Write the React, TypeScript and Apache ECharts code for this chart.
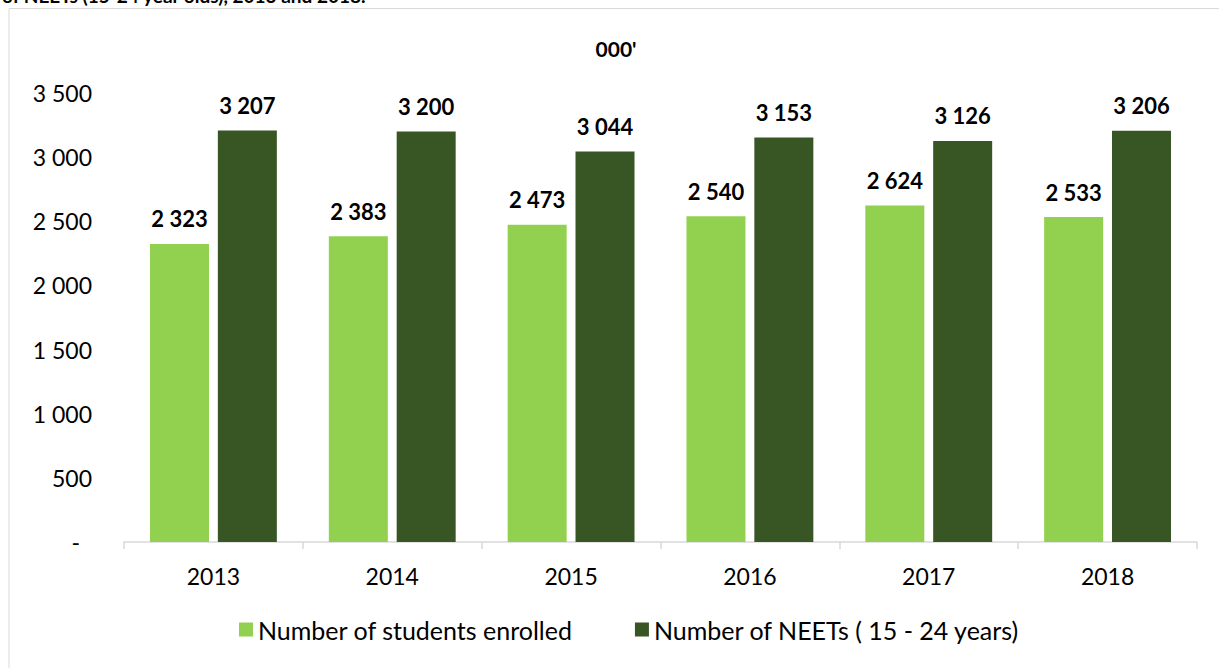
import React, { useEffect, useRef } from "react";
import * as echarts from "echarts";

const categories = ["2013", "2014", "2015", "2016", "2017", "2018"];
const studentsEnrolled = [2323, 2383, 2473, 2540, 2624, 2533];
const neets = [3207, 3200, 3044, 3153, 3126, 3206];
const seriesNames = ["Number of students enrolled", "Number of NEETs ( 15 - 24 years)"];
const unitLabel = "000'";
const cutTitle = "of NEETs (15-24 year olds), 2013 and 2018.";

const FONT = "Lato, 'Open Sans', sans-serif";

const fmt = (v: number) => String(v).replace(/\B(?=(\d{3})+(?!\d))/g, " ");

export default function App() {
  const ref = useRef<HTMLDivElement>(null);
  useEffect(() => {
    if (!ref.current) return;
    const chart = echarts.init(ref.current, undefined, { renderer: "svg" });
    const label = {
      show: true,
      position: "top" as const,
      distance: 14,
      fontSize: 22,
      fontWeight: "bold" as const,
      color: "#000",
      fontFamily: FONT,
      formatter: (p: any) => fmt(p.value),
    };
    chart.setOption({
      animation: false,
      backgroundColor: "#fff",
      textStyle: { fontFamily: FONT },
      graphic: [
        {
          type: "rect",
          shape: { x: 9, y: 8.5, width: 1230, height: 680 },
          style: { fill: "none", stroke: "#d9d9d9", lineWidth: 1 },
          silent: true,
        },
        {
          type: "text",
          x: 2,
          y: 5,
          style: {
            text: cutTitle,
            fontSize: 19,
            fontWeight: "bold",
            fontFamily: FONT,
            fill: "#000",
            verticalAlign: "bottom",
          },
        },
        {
          type: "text",
          x: 616,
          y: 48,
          style: {
            text: unitLabel,
            fontSize: 21,
            fontWeight: "bold",
            fontFamily: FONT,
            fill: "#000",
            align: "center",
            verticalAlign: "middle",
          },
        },
      ],
      legend: {
        bottom: 21,
        left: 234,
        itemWidth: 14,
        itemHeight: 14,
        itemGap: 62,
        icon: "rect",
        textStyle: { fontSize: 25, color: "#000", fontFamily: FONT },
        data: seriesNames,
      },
      grid: { left: 124, right: 22, top: 93, bottom: 126 },
      xAxis: {
        type: "category",
        data: categories,
        axisLine: { lineStyle: { color: "#d9d9d9", width: 1.5 } },
        axisTick: { show: true, length: 7, lineStyle: { color: "#d9d9d9", width: 1.5 } },
        axisLabel: { fontSize: 23, color: "#000", margin: 22, fontFamily: FONT },
      },
      yAxis: {
        type: "value",
        min: 0,
        max: 3500,
        interval: 500,
        axisLine: { show: false },
        axisTick: { show: false },
        splitLine: { show: false },
        axisLabel: {
          fontSize: 23,
          color: "#000",
          margin: 32,
          fontFamily: FONT,
          formatter: (v: number) => (v === 0 ? "{d|-}" : fmt(v)),
          rich: { d: { fontSize: 23, color: "#000", fontFamily: FONT, padding: [0, 12, 0, 0] } },
        },
      },
      series: [
        {
          name: seriesNames[0],
          type: "bar",
          data: studentsEnrolled,
          itemStyle: { color: "#92d050" },
          barWidth: 59,
          barGap: "15%",
          label,
        },
        {
          name: seriesNames[1],
          type: "bar",
          data: neets,
          itemStyle: { color: "#375623" },
          barWidth: 59,
          label,
        },
      ],
    });
    return () => chart.dispose();
  }, []);
  return (
    <div
      ref={ref}
      style={{ position: "absolute", left: 0, top: 0, width: 1219, height: 668 }}
    />
  );
}
